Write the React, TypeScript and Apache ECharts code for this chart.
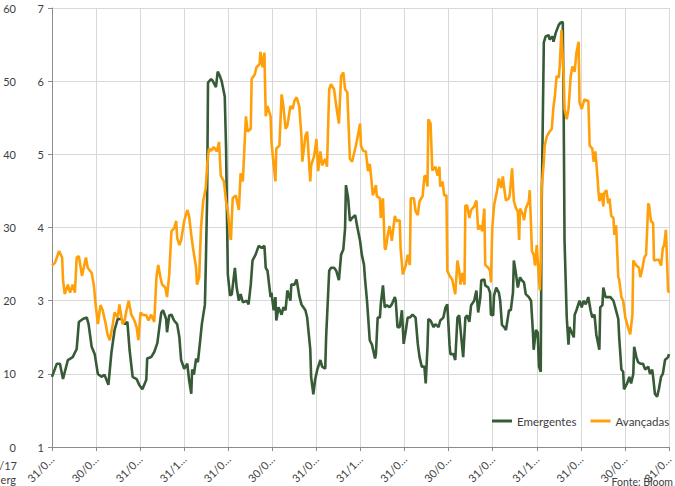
import React, { useEffect, useRef } from "react";
import * as echarts from "echarts";

const xTickLabels = [
  "31/0…", "30/0…", "31/0…", "31/1…", "31/0…", "30/0…", "31/0…", "31/1…",
  "31/0…", "30/0…", "31/0…", "31/1…", "31/0…", "30/0…", "31/0…",
];
const leftAxisTicks = [0, 10, 20, 30, 40, 50, 60];
const rightAxisTicks = [1, 2, 3, 4, 5, 6, 7];
const seriesNames = ["Emergentes", "Avançadas"];

// [time in quarters from first tick, value] — Emergentes on the 1–7 scale
const emergentes: [number, number][] = [
  [0.00,1.96],[0.11,2.14],[0.18,2.14],[0.25,1.93],[0.36,2.19],[0.47,2.23],[0.56,2.34],[0.61,2.71],[0.70,2.75],[0.79,2.77],[0.83,2.68],[0.90,2.37],[0.97,2.27],[1.04,2.00],[1.13,1.96],[1.19,1.99],[1.28,1.85],[1.35,2.30],[1.42,2.60],[1.49,2.75],[1.58,2.75],[1.65,2.68],[1.71,2.71],[1.76,2.33],[1.83,1.96],[1.92,1.93],[1.98,1.85],[2.05,1.79],[2.14,1.92],[2.16,2.21],[2.25,2.23],[2.32,2.30],[2.39,2.42],[2.48,2.84],[2.52,2.87],[2.59,2.75],[2.61,2.57],[2.66,2.80],[2.71,2.81],[2.77,2.73],[2.84,2.68],[2.89,2.50],[2.93,2.19],[3.00,2.07],[3.07,2.14],[3.11,1.92],[3.16,1.73],[3.18,2.06],[3.22,1.99],[3.27,2.21],[3.31,2.16],[3.36,2.44],[3.40,2.68],[3.47,2.95],[3.49,3.49],[3.52,4.40],[3.54,5.98],[3.61,6.03],[3.65,6.00],[3.72,5.92],[3.76,6.13],[3.81,6.07],[3.85,6.00],[3.92,5.79],[3.95,5.08],[3.97,4.17],[3.99,3.36],[4.04,3.07],[4.08,3.09],[4.15,3.45],[4.19,3.18],[4.24,3.00],[4.28,3.09],[4.33,2.98],[4.42,3.00],[4.46,2.95],[4.51,3.22],[4.55,3.55],[4.62,3.63],[4.69,3.75],[4.76,3.72],[4.82,3.75],[4.85,3.45],[4.89,3.41],[4.96,3.05],[4.98,3.11],[5.03,2.87],[5.07,3.05],[5.09,2.73],[5.14,2.91],[5.21,2.81],[5.25,2.91],[5.30,2.87],[5.34,3.14],[5.41,3.00],[5.43,3.22],[5.50,3.22],[5.55,3.29],[5.61,3.07],[5.66,2.95],[5.75,2.87],[5.79,2.77],[5.86,2.34],[5.88,1.96],[5.93,1.72],[5.97,1.92],[6.02,2.06],[6.09,2.19],[6.13,2.10],[6.20,2.07],[6.22,2.50],[6.29,3.41],[6.33,3.45],[6.40,3.45],[6.45,3.41],[6.51,3.28],[6.56,3.63],[6.61,3.70],[6.65,3.99],[6.67,4.58],[6.72,4.40],[6.76,4.09],[6.81,4.13],[6.88,4.17],[6.92,4.03],[6.99,3.82],[7.03,3.63],[7.08,3.49],[7.10,3.32],[7.15,2.98],[7.21,2.46],[7.26,2.40],[7.33,2.21],[7.35,2.27],[7.39,2.77],[7.44,2.77],[7.46,2.95],[7.51,3.21],[7.55,2.91],[7.60,2.94],[7.66,2.91],[7.71,2.95],[7.78,3.05],[7.80,3.00],[7.84,2.64],[7.89,2.64],[7.94,2.87],[7.98,2.41],[8.03,2.60],[8.07,2.77],[8.12,2.77],[8.18,2.81],[8.25,2.77],[8.30,2.41],[8.34,2.23],[8.39,2.10],[8.45,2.10],[8.48,1.87],[8.52,2.37],[8.54,2.75],[8.59,2.73],[8.66,2.64],[8.70,2.68],[8.77,2.64],[8.81,2.73],[8.88,2.77],[8.93,2.91],[8.97,2.95],[9.02,2.40],[9.04,2.27],[9.11,2.27],[9.15,2.19],[9.20,2.77],[9.24,2.80],[9.29,2.48],[9.33,2.23],[9.38,2.77],[9.42,2.80],[9.47,2.71],[9.51,2.94],[9.58,3.00],[9.63,3.14],[9.67,2.84],[9.72,3.05],[9.74,3.28],[9.81,3.29],[9.83,3.21],[9.90,3.18],[9.94,3.11],[9.96,2.81],[10.01,2.80],[10.03,3.07],[10.08,3.18],[10.14,3.11],[10.17,3.00],[10.21,2.67],[10.26,2.64],[10.30,2.60],[10.37,2.87],[10.41,2.87],[10.46,3.11],[10.48,3.55],[10.53,3.36],[10.57,3.18],[10.62,3.32],[10.66,3.28],[10.71,3.25],[10.75,3.09],[10.82,3.05],[10.87,3.00],[10.91,2.60],[10.93,2.33],[10.98,2.60],[11.02,2.57],[11.05,2.10],[11.09,2.03],[11.11,4.26],[11.14,5.62],[11.16,6.53],[11.20,6.61],[11.27,6.63],[11.29,6.57],[11.36,6.61],[11.38,6.54],[11.43,6.66],[11.50,6.77],[11.54,6.80],[11.59,6.81],[11.61,5.62],[11.63,3.82],[11.68,2.77],[11.72,2.40],[11.74,2.64],[11.79,2.57],[11.84,2.50],[11.86,2.81],[11.90,2.87],[11.97,3.00],[12.02,2.91],[12.06,3.00],[12.11,2.95],[12.17,3.05],[12.22,2.87],[12.26,2.77],[12.31,2.81],[12.35,2.54],[12.42,2.33],[12.44,2.91],[12.49,2.94],[12.51,3.18],[12.56,3.05],[12.62,3.05],[12.67,3.05],[12.74,3.00],[12.78,2.91],[12.85,2.75],[12.87,2.50],[12.92,2.06],[12.96,2.03],[12.98,1.79],[13.05,1.87],[13.10,1.96],[13.14,1.87],[13.19,2.00],[13.21,2.37],[13.26,2.23],[13.30,2.16],[13.35,2.14],[13.41,2.14],[13.46,2.06],[13.53,2.10],[13.57,2.00],[13.62,2.06],[13.64,1.96],[13.68,1.73],[13.73,1.69],[13.77,1.79],[13.82,1.96],[13.86,2.00],[13.91,2.19],[13.98,2.23],[14.00,2.27],
];

// [time in quarters from first tick, value] — Avançadas on the 0–60 scale
const avancadas: [number, number][] = [
  [0.00,24.8],[0.07,25.2],[0.16,26.8],[0.23,25.9],[0.25,22.8],[0.29,20.9],[0.36,22.2],[0.41,21.1],[0.47,22.2],[0.52,21.1],[0.56,25.9],[0.61,26.1],[0.68,23.4],[0.72,24.5],[0.77,25.9],[0.81,24.5],[0.90,23.8],[0.95,22.1],[0.99,19.5],[1.04,16.8],[1.10,19.4],[1.15,18.7],[1.22,16.8],[1.26,15.4],[1.31,14.6],[1.38,16.8],[1.42,18.4],[1.49,17.7],[1.53,19.5],[1.60,16.8],[1.65,17.3],[1.69,18.7],[1.74,20.0],[1.80,18.1],[1.87,17.3],[1.92,16.4],[1.96,14.6],[2.01,18.4],[2.05,18.1],[2.14,18.0],[2.19,17.3],[2.25,18.1],[2.32,17.1],[2.37,23.2],[2.41,24.9],[2.46,23.2],[2.50,22.2],[2.57,21.8],[2.61,20.5],[2.66,23.6],[2.71,29.5],[2.77,29.9],[2.82,30.9],[2.84,28.6],[2.89,27.6],[2.93,28.3],[3.00,30.9],[3.07,32.4],[3.11,31.6],[3.16,29.0],[3.20,27.2],[3.27,24.5],[3.29,22.2],[3.34,23.2],[3.38,29.9],[3.43,33.6],[3.49,35.4],[3.52,38.5],[3.56,40.8],[3.61,40.5],[3.67,41.0],[3.74,40.4],[3.79,41.7],[3.83,37.1],[3.90,36.3],[3.95,33.6],[3.99,32.2],[4.04,29.0],[4.06,28.3],[4.10,34.0],[4.17,34.4],[4.24,32.4],[4.28,37.4],[4.33,36.3],[4.40,45.2],[4.44,43.1],[4.51,43.5],[4.53,50.3],[4.60,50.9],[4.64,51.9],[4.71,52.3],[4.73,54.0],[4.78,51.9],[4.82,53.9],[4.85,45.2],[4.89,46.6],[4.96,45.2],[4.98,41.7],[5.03,38.5],[5.07,36.3],[5.09,40.8],[5.16,41.2],[5.21,48.2],[5.25,46.6],[5.30,43.5],[5.34,43.9],[5.41,46.6],[5.46,46.2],[5.50,47.3],[5.55,47.8],[5.61,46.6],[5.66,42.5],[5.68,39.0],[5.75,42.5],[5.79,43.1],[5.86,36.3],[5.88,38.5],[5.95,39.8],[6.00,42.1],[6.04,37.7],[6.09,40.4],[6.13,38.5],[6.20,39.4],[6.24,38.3],[6.29,48.9],[6.33,49.6],[6.40,48.9],[6.45,46.6],[6.51,44.2],[6.56,50.7],[6.61,51.2],[6.65,48.9],[6.70,48.5],[6.76,39.4],[6.81,39.0],[6.88,40.8],[6.92,41.9],[6.99,44.2],[7.01,41.2],[7.06,40.5],[7.12,40.4],[7.17,37.7],[7.21,38.7],[7.24,37.0],[7.28,34.4],[7.35,35.8],[7.37,34.3],[7.44,34.0],[7.46,31.3],[7.51,34.0],[7.55,27.2],[7.57,27.0],[7.62,29.0],[7.66,30.2],[7.71,28.2],[7.78,31.6],[7.82,30.9],[7.89,31.0],[7.91,27.2],[7.96,23.6],[8.03,24.9],[8.07,26.3],[8.12,24.9],[8.14,34.0],[8.21,34.0],[8.25,32.2],[8.30,31.7],[8.34,33.6],[8.41,34.3],[8.45,37.0],[8.48,37.1],[8.52,35.6],[8.54,44.8],[8.59,44.2],[8.63,37.8],[8.70,38.3],[8.75,37.1],[8.79,38.3],[8.81,35.6],[8.86,36.3],[8.90,34.4],[8.95,34.4],[8.97,24.1],[9.02,23.4],[9.08,22.9],[9.15,20.9],[9.20,25.5],[9.24,24.1],[9.27,22.2],[9.31,23.8],[9.36,22.2],[9.38,33.0],[9.42,33.0],[9.47,31.3],[9.51,32.4],[9.58,32.9],[9.63,33.7],[9.67,29.7],[9.72,30.3],[9.76,29.5],[9.81,32.6],[9.83,24.9],[9.90,24.5],[9.94,24.1],[9.96,22.5],[9.99,29.9],[10.03,33.0],[10.05,33.6],[10.10,35.1],[10.14,36.7],[10.19,35.4],[10.23,37.0],[10.26,35.4],[10.30,33.7],[10.37,34.0],[10.39,34.7],[10.44,38.1],[10.48,33.6],[10.53,32.6],[10.57,32.2],[10.60,28.3],[10.62,32.6],[10.69,31.7],[10.71,31.0],[10.75,32.6],[10.82,33.6],[10.84,35.1],[10.89,26.8],[10.93,26.3],[10.96,24.8],[11.00,27.6],[11.05,22.8],[11.07,21.4],[11.09,25.5],[11.11,35.4],[11.16,39.0],[11.18,41.2],[11.23,42.5],[11.29,43.1],[11.34,43.5],[11.38,46.6],[11.41,47.9],[11.45,50.7],[11.50,50.5],[11.52,52.0],[11.56,57.0],[11.61,50.7],[11.63,46.2],[11.68,44.8],[11.72,46.2],[11.77,50.7],[11.81,52.0],[11.86,51.3],[11.90,53.9],[11.95,55.4],[11.97,47.1],[12.02,46.2],[12.08,47.5],[12.17,47.3],[12.20,41.2],[12.26,40.8],[12.29,39.0],[12.33,40.4],[12.38,36.7],[12.40,34.9],[12.42,33.6],[12.47,34.7],[12.51,32.9],[12.53,34.7],[12.58,35.1],[12.62,33.3],[12.65,34.0],[12.69,31.6],[12.74,31.3],[12.76,29.0],[12.80,30.3],[12.85,23.2],[12.87,22.9],[12.92,20.5],[12.96,20.0],[13.01,17.7],[13.07,16.4],[13.12,15.4],[13.17,18.1],[13.19,25.5],[13.26,24.8],[13.32,24.5],[13.35,23.2],[13.39,24.2],[13.44,25.9],[13.48,26.3],[13.53,33.3],[13.55,33.0],[13.59,30.9],[13.64,30.6],[13.66,25.5],[13.73,25.6],[13.77,25.6],[13.82,24.8],[13.86,27.2],[13.89,27.6],[13.93,29.7],[13.98,21.4],[14.00,21.1],
];

const FONT = "Lato, 'Liberation Sans', sans-serif";
const TEXT = "#404040";
const GRID = "#d9d9d9";
const AXIS = "#8c8c8c";
const GREEN = "#375a37";
const ORANGE = "#ffa00a";

export default function App() {
  const ref = useRef<HTMLDivElement>(null);
  useEffect(() => {
    if (!ref.current) return;
    const chart = echarts.init(ref.current, undefined, { renderer: "svg" });
    chart.setOption({
      animation: false,
      backgroundColor: "#ffffff",
      textStyle: { fontFamily: FONT },
      grid: { left: 52, right: 2, top: 8, bottom: 35, containLabel: false },
      legend: {
        data: seriesNames,
        left: 492,
        top: 415,
        padding: 0,
        orient: "horizontal",
        icon: "rect",
        itemWidth: 20,
        itemHeight: 3,
        itemGap: 14,
        textStyle: { fontFamily: FONT, fontSize: 11.5, color: TEXT },
      },
      xAxis: {
        type: "value",
        min: 0,
        max: xTickLabels.length - 1,
        interval: 1,
        axisLine: { show: true, lineStyle: { color: AXIS, width: 1 } },
        axisTick: { show: true, length: 4, lineStyle: { color: AXIS } },
        splitLine: { show: true, lineStyle: { color: GRID, width: 1 } },
        axisLabel: {
          rotate: 45,
          margin: 10,
          fontSize: 11,
          fontFamily: FONT,
          color: TEXT,
          showMinLabel: true,
          showMaxLabel: true,
          formatter: (v: number) => xTickLabels[Math.round(v)] ?? "",
        },
      },
      yAxis: [
        {
          type: "value",
          position: "left",
          offset: 28,
          min: leftAxisTicks[0],
          max: leftAxisTicks[leftAxisTicks.length - 1],
          interval: 10,
          axisLine: { show: false },
          axisTick: { show: false },
          splitLine: { show: false },
          axisLabel: { fontSize: 11, fontFamily: FONT, color: TEXT, margin: 8 },
        },
        {
          type: "value",
          position: "left",
          offset: 0,
          min: rightAxisTicks[0],
          max: rightAxisTicks[rightAxisTicks.length - 1],
          interval: 1,
          axisLine: { show: true, lineStyle: { color: AXIS, width: 1 } },
          axisTick: { show: true, length: 4, lineStyle: { color: AXIS } },
          splitLine: { show: true, lineStyle: { color: GRID, width: 1 } },
          axisLabel: { fontSize: 11, fontFamily: FONT, color: TEXT, margin: 8 },
        },
      ],
      series: [
        {
          name: seriesNames[0],
          type: "line",
          yAxisIndex: 1,
          data: emergentes,
          showSymbol: false,
          lineStyle: { color: GREEN, width: 2.6 },
          itemStyle: { color: GREEN },
        },
        {
          name: seriesNames[1],
          type: "line",
          yAxisIndex: 0,
          data: avancadas,
          showSymbol: false,
          lineStyle: { color: ORANGE, width: 2.6 },
          itemStyle: { color: ORANGE },
        },
      ],
      graphic: [
        { type: "text", x: 17, y: 465, style: { text: "/17", fontSize: 11, fontFamily: FONT, fill: TEXT, align: "right", verticalAlign: "middle" } },
        { type: "text", x: 16, y: 479, style: { text: "erg", fontSize: 11, fontFamily: FONT, fill: TEXT, align: "right", verticalAlign: "middle" } },
        { type: "text", x: 673, y: 481.5, style: { text: "Fonte: Bloom", fontSize: 10.5, fontFamily: FONT, fill: TEXT, align: "right", verticalAlign: "middle" } },
      ],
    });
    return () => chart.dispose();
  }, []);
  return (
    <div
      ref={ref}
      style={{ position: "absolute", left: 0, top: 0, width: 675, height: 486, overflow: "hidden" }}
    />
  );
}
